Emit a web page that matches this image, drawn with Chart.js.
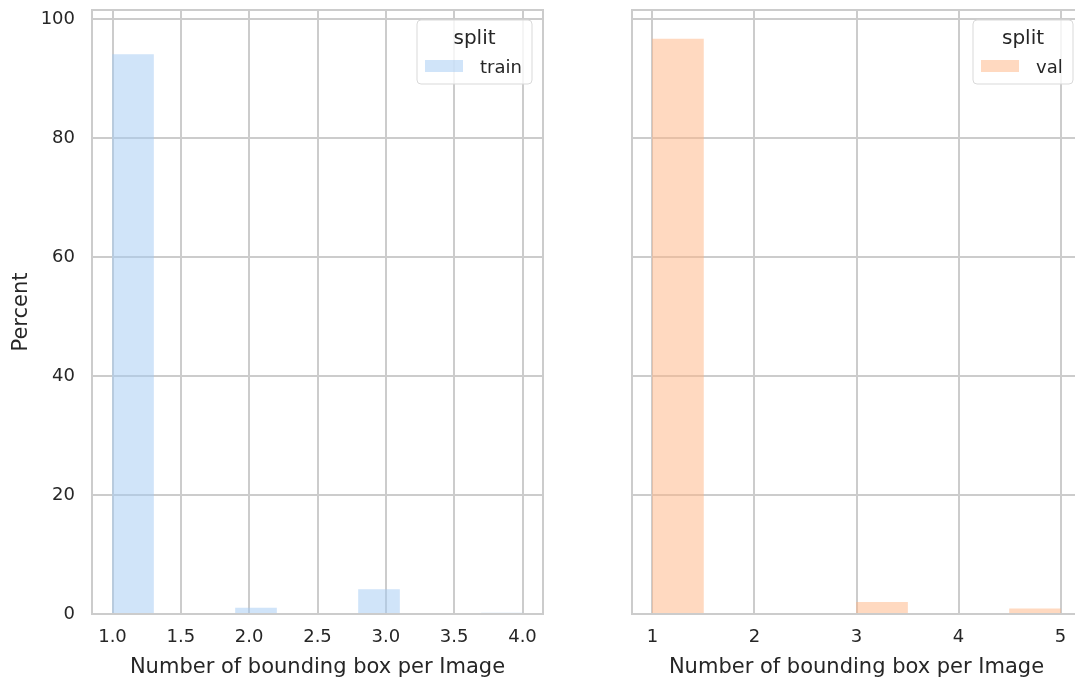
<!DOCTYPE html>
<html>
<head>
<meta charset="utf-8">
<script src="https://cdn.jsdelivr.net/npm/chart.js@4.4.0/dist/chart.umd.min.js"></script>
<style>
  html, body { margin: 0; padding: 0; background: #fff; }
  #wrap { position: relative; width: 1075px; height: 682px; overflow: hidden; }
</style>
</head>
<body>
<div id="wrap">
  <div style="position:absolute;left:0;top:0;width:560px;height:682px"><canvas id="left"></canvas></div>
  <div style="position:absolute;left:600px;top:0;width:500px;height:682px"><canvas id="right"></canvas></div>
</div>
<script>
// histogram bins (centers) and percent per bin
const trainBins = [1.15, 1.45, 1.75, 2.05, 2.35, 2.65, 2.95, 3.25, 3.55, 3.85];
const trainPct  = [94.0, 0, 0, 1.0, 0, 0, 4.1, 0, 0, 0.15];
const valBins   = [1.25, 1.75, 2.25, 2.75, 3.25, 3.75, 4.25, 4.75];
const valPct    = [96.6, 0, 0, 0, 1.95, 0, 0, 0.85];

const trainTicks = [1.0, 1.5, 2.0, 2.5, 3.0, 3.5, 4.0];
const valTicks   = [1, 2, 3, 4, 5];
const yTicks     = [0, 20, 40, 60, 80, 100];

const FONT = "'DejaVu Sans', sans-serif";
const TXT = '#262626';
const GRID = '#cccccc';

// draws the 4 spines + legend box (seaborn style) inside the plot
const frameLegend = {
  id: 'frameLegend',
  afterDraw(chart, args, opts) {
    const { ctx, chartArea: a } = chart;
    ctx.save();
    ctx.strokeStyle = GRID;
    ctx.lineWidth = 2;
    ctx.strokeRect(a.left, a.top, a.right - a.left, a.bottom - a.top);

    // legend
    const x = opts.x, y = opts.y, w = opts.w, h = 64;
    ctx.beginPath();
    ctx.roundRect(x, y, w, h, 4);
    ctx.fillStyle = 'rgba(255,255,255,0.8)';
    ctx.fill();
    ctx.strokeStyle = '#d9d9d9';
    ctx.lineWidth = 1;
    ctx.stroke();
    ctx.fillStyle = TXT;
    ctx.textAlign = 'center';
    ctx.textBaseline = 'alphabetic';
    ctx.font = '20px ' + FONT;
    ctx.fillText('split', x + w / 2, y + 24);
    ctx.fillStyle = opts.color;
    ctx.fillRect(x + 8, y + 40, 38, 12);
    ctx.fillStyle = TXT;
    ctx.textAlign = 'left';
    ctx.font = '18px ' + FONT;
    ctx.fillText(opts.label, x + opts.lx, y + 53);
    ctx.restore();
  }
};

function makeChart(id, bins, pct, ticks, xmin, xmax, color, legend, showY, pad, fmt) {
  return new Chart(document.getElementById(id), {
    type: 'bar',
    data: {
      datasets: [{
        label: legend.label,
        data: bins.map((b, i) => ({ x: b, y: pct[i] })),
        backgroundColor: color,
        borderWidth: 0,
        barPercentage: 1.0,
        categoryPercentage: 1.0
      }]
    },
    options: {
      responsive: true,
      maintainAspectRatio: false,
      animation: false,
      devicePixelRatio: 1,
      layout: { padding: pad },
      plugins: {
        legend: { display: false },
        tooltip: { enabled: false },
        frameLegend: legend
      },
      scales: {
        x: {
          type: 'linear',
          min: xmin, max: xmax,
          offset: false,
          grid: { color: GRID, lineWidth: 2, drawTicks: false, offset: false },
          border: { display: false },
          afterBuildTicks: s => { s.ticks = ticks.map(v => ({ value: v })); },
          afterFit: s => { s.height = 68; s.paddingLeft = 0; s.paddingRight = 0; },
          ticks: { color: TXT, padding: 13, font: { family: FONT, size: 18 }, maxRotation: 0, callback: fmt },
          title: { display: true, text: 'Number of bounding box per Image', color: TXT,
                   font: { family: FONT, size: 21 }, padding: { top: 0, bottom: 2 } }
        },
        y: {
          min: 0, max: 101.5,
          grid: { color: GRID, lineWidth: 2, drawTicks: false },
          border: { display: false },
          afterBuildTicks: s => { s.ticks = yTicks.map(v => ({ value: v })); },
          afterFit: s => { s.width = showY ? 92 : 32; s.paddingTop = 0; s.paddingBottom = 0; },
          ticks: { display: showY, color: TXT, padding: 17, font: { family: FONT, size: 18 } },
          title: { display: showY, text: 'Percent', color: TXT, font: { family: FONT, size: 21 }, padding: { top: 9, bottom: 0 } }
        }
      }
    },
    plugins: [frameLegend]
  });
}

makeChart('left', trainBins, trainPct, trainTicks, 0.85, 4.15, 'rgba(161,201,244,0.5)',
  { x: 417, y: 20, w: 115, lx: 63, label: 'train', color: 'rgba(161,201,244,0.5)' },
  true, { left: 0, right: 17, top: 10, bottom: 0 }, v => v.toFixed(1));

makeChart('right', valBins, valPct, valTicks, 0.8, 5.2, 'rgba(255,180,130,0.5)',
  { x: 373, y: 20, w: 100, lx: 63, label: 'val', color: 'rgba(255,180,130,0.5)' },
  false, { left: 0, right: 19, top: 10, bottom: 0 }, v => String(v));
</script>
</body>
</html>
